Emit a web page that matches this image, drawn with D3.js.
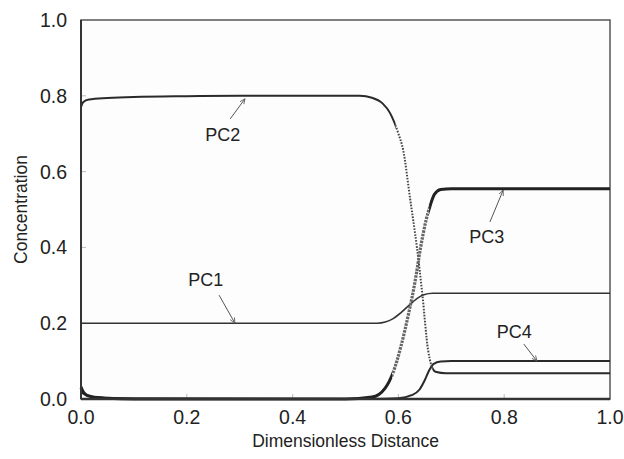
<!DOCTYPE html>
<html>
<head>
<meta charset="utf-8">
<script src="https://cdn.jsdelivr.net/npm/d3@7"></script>
<style>
  body { margin: 0; background: #fff; }
  text { font-family: "Liberation Sans", Arial, sans-serif; fill: #222; }
</style>
</head>
<body>
<svg id="chart" width="624" height="459"></svg>
<script>
// values: [distance, concentration]
var pc1 = [[0,0.2],[0.56,0.2],[0.575,0.203],[0.59,0.212],[0.605,0.228],[0.62,0.247],[0.635,0.265],[0.648,0.275],[0.665,0.279],[1,0.279]];
var pc2 = [[0,0.77],[0.004,0.783],[0.015,0.79],[0.05,0.794],[0.1,0.797],[0.2,0.799],[0.3,0.8],[0.527,0.8],[0.55,0.795],[0.57,0.78],[0.584,0.755],[0.6,0.70],[0.609,0.657],[0.622,0.53],[0.635,0.4],[0.645,0.28],[0.656,0.13],[0.662,0.09],[0.67,0.072],[0.69,0.068],[1,0.068]];
var pc3 = [[0,0.03],[0.005,0.015],[0.02,0.006],[0.05,0.002],[0.1,0],[0.5,0],[0.55,0.005],[0.575,0.029],[0.59,0.07],[0.605,0.14],[0.62,0.23],[0.631,0.306],[0.642,0.4],[0.652,0.47],[0.66,0.51],[0.668,0.54],[0.68,0.553],[0.7,0.555],[1,0.555]];
var pc4 = [[0,0.035],[0.005,0.02],[0.015,0.008],[0.04,0.003],[0.1,0.001],[0.55,0],[0.6,0.002],[0.625,0.01],[0.64,0.025],[0.65,0.05],[0.658,0.075],[0.666,0.092],[0.68,0.099],[0.7,0.1],[1,0.1]];
var ticks = [0, 0.2, 0.4, 0.6, 0.8, 1.0];

// x-ranges where the markers spread out and the curve looks dotted
var pc2Steep = [0.595, 0.664];
var pc3Steep = [0.588, 0.658];

// label position, arrow tail, arrow head (data units)
var notes = [
  {name: "PC1", at: [0.236,0.314], from: [0.261,0.274], to: [0.291,0.2]},
  {name: "PC2", at: [0.268,0.699], from: [0.282,0.739], to: [0.31,0.792]},
  {name: "PC3", at: [0.767,0.43],  from: [0.773,0.467], to: [0.798,0.551]},
  {name: "PC4", at: [0.819,0.179], from: [0.837,0.145], to: [0.862,0.1]}
];

var svg = d3.select("#chart");
var mLeft = 81, mRight = 610, mTop = 20, mBottom = 399;

var x = d3.scaleLinear().domain([0, 1]).range([mLeft, mRight]);
var y = d3.scaleLinear().domain([0, 1]).range([mBottom, mTop]);

var defs = svg.append("defs");
function clips(id, r) {
  // inside the steep range
  defs.append("clipPath").attr("id", id + "-in").append("rect")
      .attr("x", x(r[0])).attr("width", x(r[1]) - x(r[0]))
      .attr("y", 0).attr("height", 459);
  // outside of it
  var cp = defs.append("clipPath").attr("id", id + "-out");
  cp.append("rect").attr("x", 0).attr("width", x(r[0])).attr("y", 0).attr("height", 459);
  cp.append("rect").attr("x", x(r[1])).attr("width", 624 - x(r[1])).attr("y", 0).attr("height", 459);
}
clips("c2", pc2Steep);
clips("c3", pc3Steep);

svg.append("rect")
    .attr("x", mLeft).attr("y", mTop)
    .attr("width", mRight - mLeft).attr("height", mBottom - mTop)
    .attr("fill", "#fdfdfd")
    .attr("stroke", "#555").attr("stroke-width", 1.5);

// little inner ticks
svg.append("g").selectAll("line").data(ticks.slice(1, 5)).enter().append("line")
    .attr("x1", function(d) { return x(d); }).attr("x2", function(d) { return x(d); })
    .attr("y1", mBottom).attr("y2", mBottom - 5)
    .attr("stroke", "#bbb");
svg.append("g").selectAll("line").data(ticks.slice(1, 5)).enter().append("line")
    .attr("x1", mLeft).attr("x2", mLeft + 5)
    .attr("y1", function(d) { return y(d); }).attr("y2", function(d) { return y(d); })
    .attr("stroke", "#bbb");

var line = d3.line()
    .x(function(d) { return x(d[0]); })
    .y(function(d) { return y(d[1]); })
    .curve(d3.curveMonotoneX);

svg.append("path").datum(pc1).attr("d", line)
    .attr("fill", "none").attr("stroke", "#333").attr("stroke-width", 1.6);
svg.append("path").datum(pc4).attr("d", line)
    .attr("fill", "none").attr("stroke", "#2a2a2a").attr("stroke-width", 2);

svg.append("path").datum(pc2).attr("d", line)
    .attr("clip-path", "url(#c2-out)")
    .attr("fill", "none").attr("stroke", "#2a2a2a").attr("stroke-width", 2);
svg.append("path").datum(pc2).attr("d", line)
    .attr("clip-path", "url(#c2-in)")
    .attr("fill", "none").attr("stroke", "#444").attr("stroke-width", 2)
    .attr("stroke-dasharray", "1.6,1.4");

svg.append("path").datum(pc3).attr("d", line)
    .attr("clip-path", "url(#c3-out)")
    .attr("fill", "none").attr("stroke", "#222").attr("stroke-width", 3);
svg.append("path").datum(pc3).attr("d", line)
    .attr("clip-path", "url(#c3-in)")
    .attr("fill", "none").attr("stroke", "#666").attr("stroke-width", 3.2)
    .attr("stroke-dasharray", "2.5,1");

// axes lines on left and bottom, darker
svg.append("line").attr("x1", mLeft).attr("x2", mLeft).attr("y1", mTop).attr("y2", mBottom)
    .attr("stroke", "#333").attr("stroke-width", 2);
svg.append("line").attr("x1", mLeft).attr("x2", mRight).attr("y1", mBottom).attr("y2", mBottom)
    .attr("stroke", "#333").attr("stroke-width", 2.5);

svg.append("g").selectAll("text").data(ticks).enter().append("text")
    .attr("x", mLeft - 14)
    .attr("y", function(d) { return y(d) + 7; })
    .attr("text-anchor", "end")
    .attr("font-size", 19.5)
    .text(function(d) { return d.toFixed(1); });

svg.append("g").selectAll("text").data(ticks).enter().append("text")
    .attr("x", function(d) { return x(d); })
    .attr("y", 424)
    .attr("text-anchor", "middle")
    .attr("font-size", 19.5)
    .text(function(d) { return d.toFixed(1); });

svg.append("text")
    .attr("transform", "translate(27," + ((mTop + mBottom) / 2) + ") rotate(-90)")
    .attr("text-anchor", "middle")
    .attr("font-size", 17.5)
    .text("Concentration");

svg.append("text")
    .attr("x", (mLeft + mRight) / 2).attr("y", 447)
    .attr("text-anchor", "middle")
    .attr("font-size", 17.5)
    .text("Dimensionless Distance");

defs.append("marker")
    .attr("id", "head").attr("viewBox", "0 0 10 10")
    .attr("refX", 9).attr("refY", 5)
    .attr("markerWidth", 6).attr("markerHeight", 6)
    .attr("orient", "auto")
  .append("path").attr("d", "M0,1 L9,5 L0,9").attr("fill", "none").attr("stroke", "#555").attr("stroke-width", 1.3);

var g = svg.append("g").selectAll("g").data(notes).enter().append("g");
g.append("line")
    .attr("x1", function(d) { return x(d.from[0]); }).attr("y1", function(d) { return y(d.from[1]); })
    .attr("x2", function(d) { return x(d.to[0]); }).attr("y2", function(d) { return y(d.to[1]); })
    .attr("stroke", "#555").attr("stroke-width", 1)
    .attr("marker-end", "url(#head)");
g.append("text")
    .attr("x", function(d) { return x(d.at[0]); })
    .attr("y", function(d) { return y(d.at[1]) + 6.5; })
    .attr("text-anchor", "middle")
    .attr("font-size", 18)
    .text(function(d) { return d.name; });
</script>
</body>
</html>
